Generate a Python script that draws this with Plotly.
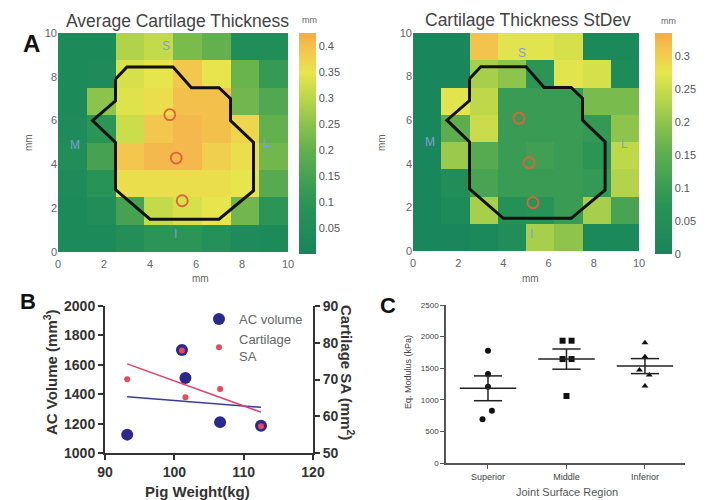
import numpy as np
import plotly.graph_objects as go

W, H = 711, 500

# ---------------- data ----------------
cell_centers = [0.625, 1.875, 3.125, 4.375, 5.625, 6.875, 8.125, 9.375]
# rows listed top (y=10) to bottom (y=0)
avg_thickness = [
    [0.03, 0.03, 0.29, 0.31, 0.23, 0.20, 0.05, 0.05],
    [0.03, 0.04, 0.33, 0.35, 0.39, 0.35, 0.21, 0.12],
    [0.03, 0.25, 0.34, 0.36, 0.40, 0.40, 0.22, 0.17],
    [0.04, 0.10, 0.32, 0.39, 0.41, 0.40, 0.37, 0.20],
    [0.05, 0.15, 0.39, 0.41, 0.41, 0.38, 0.36, 0.22],
    [0.04, 0.09, 0.36, 0.36, 0.36, 0.36, 0.35, 0.18],
    [0.03, 0.05, 0.15, 0.31, 0.33, 0.35, 0.22, 0.10],
    [0.03, 0.03, 0.06, 0.10, 0.10, 0.07, 0.04, 0.03],
]
std_thickness = [
    [0.01, 0.01, 0.31, 0.27, 0.27, 0.26, 0.02, 0.02],
    [0.01, 0.01, 0.22, 0.20, 0.08, 0.27, 0.26, 0.03],
    [0.01, 0.27, 0.24, 0.10, 0.10, 0.10, 0.18, 0.18],
    [0.01, 0.15, 0.25, 0.10, 0.10, 0.10, 0.09, 0.20],
    [0.01, 0.21, 0.14, 0.10, 0.11, 0.10, 0.08, 0.24],
    [0.01, 0.04, 0.12, 0.10, 0.10, 0.10, 0.09, 0.23],
    [0.01, 0.03, 0.22, 0.06, 0.07, 0.10, 0.22, 0.12],
    [0.01, 0.01, 0.02, 0.04, 0.22, 0.20, 0.02, 0.02],
]
avg_cbar_ticks = [0.05, 0.1, 0.15, 0.2, 0.25, 0.3, 0.35, 0.4]
std_cbar_ticks = [0, 0.05, 0.1, 0.15, 0.2, 0.25, 0.3]

outline_x = [2.5, 3.0, 5.0, 5.8, 7.0, 7.5, 7.5, 8.5, 8.5, 7.0, 4.0, 2.5, 2.5, 1.5, 2.5, 2.5]
outline_y = [7.9, 8.45, 8.45, 7.5, 7.5, 7.0, 6.0, 5.0, 2.8, 1.5, 1.5, 2.85, 5.0, 6.0, 6.9, 7.9]

site_x_avg = [4.86, 5.14, 5.40]
site_y_avg = [6.27, 4.29, 2.34]
site_x_std = [4.69, 5.13, 5.31]
site_y_std = [6.09, 4.05, 2.22]

region_labels = ["S", "M", "L", "I"]
label_x_avg = [4.71, 0.72, 9.06, 5.10]
label_y_avg = [9.39, 4.90, 4.98, 0.80]
label_x_std = [4.82, 0.74, 9.37, 5.24]
label_y_std = [9.08, 5.00, 4.90, 0.80]

pig_weight = [93.2, 101.1, 101.6, 106.6, 112.5]
ac_volume = [1125, 1700, 1510, 1210, 1185]
cartilage_sa = [70.1, 77.9, 65.2, 67.4, 57.3]

regions = ["Superior", "Middle", "Inferior"]
superior = [1776, 1408, 1207, 828, 691]
superior_dx = [0, 0, 0, 0.05, -0.07]
middle = [1935, 1935, 1645, 1645, 1060]
middle_dx = [-0.05, 0.065, -0.05, 0.065, 0]
inferior = [1903, 1682, 1471, 1392, 1218]
inferior_dx = [0, 0, -0.07, 0.055, 0]

# ---------------- helpers ----------------
def px(x):
    return x / W

def py(y):
    return 1 - y / H

colorscale = [
    [0.0, "#17855c"], [0.23, "#2a9456"], [0.47, "#62b04e"], [0.59, "#8cc34c"],
    [0.70, "#b8d64a"], [0.82, "#e6e64c"], [0.9, "#f2cc4e"], [1.0, "#f6ac4a"],
]

fig = go.Figure()

def add_heatmap(z, zmax, ticks, xa, ya, cb_x):
    fig.add_trace(go.Heatmap(
        z=z[::-1], x=cell_centers, y=cell_centers, zmin=0, zmax=zmax,
        colorscale=colorscale, xaxis=xa, yaxis=ya,
        colorbar=dict(x=px(cb_x), xanchor="left", y=py(33), yanchor="top",
                      len=221 / H, lenmode="fraction", thickness=17, outlinewidth=0,
                      tickvals=ticks, ticktext=[f"{t:g}" for t in ticks],
                      tickfont=dict(size=11, color="#555", family="Arial"),
                      ticks="", xpad=0, ypad=0),
    ))

add_heatmap(avg_thickness, 0.426, avg_cbar_ticks, "x", "y", 299)
add_heatmap(std_thickness, 0.335, std_cbar_ticks, "x2", "y2", 655)

for xa, ya, sx, sy in [("x", "y", site_x_avg, site_y_avg), ("x2", "y2", site_x_std, site_y_std)]:
    fig.add_trace(go.Scatter(x=outline_x, y=outline_y, mode="lines", xaxis=xa, yaxis=ya,
                             line=dict(color="#111", width=3), showlegend=False, hoverinfo="skip"))
    fig.add_trace(go.Scatter(x=sx, y=sy, mode="markers", xaxis=xa, yaxis=ya, showlegend=False,
                             marker=dict(symbol="circle-open", size=11, color="#e0603a",
                                         line=dict(width=1.8, color="#e0603a"))))

# Panel B
fig.add_trace(go.Scatter(x=pig_weight, y=ac_volume, mode="markers", name="AC volume",
                         xaxis="x3", yaxis="y3",
                         marker=dict(size=12, color="#2b2a8c")))
fig.add_trace(go.Scatter(x=pig_weight, y=cartilage_sa, mode="markers", name="Cartilage<br>SA",
                         xaxis="x3", yaxis="y4",
                         marker=dict(size=6, color="#e8485a")))
xfit = np.array([min(pig_weight), max(pig_weight)])
b1 = np.polyfit(pig_weight, ac_volume, 1)
b2 = np.polyfit(pig_weight, cartilage_sa, 1)
fig.add_trace(go.Scatter(x=xfit, y=np.polyval(b1, xfit), mode="lines", xaxis="x3", yaxis="y3",
                         line=dict(color="#3a3a9a", width=1.5), showlegend=False))
fig.add_trace(go.Scatter(x=xfit, y=np.polyval(b2, xfit), mode="lines", xaxis="x3", yaxis="y4",
                         line=dict(color="#e0406a", width=1.5), showlegend=False))

# Panel C
groups = [(superior, superior_dx, "circle"), (middle, middle_dx, "square"), (inferior, inferior_dx, "triangle-up")]
for i, (vals, dx, sym) in enumerate(groups):
    c = i + 1
    fig.add_trace(go.Scatter(x=[c + d for d in dx], y=vals, mode="markers", xaxis="x5", yaxis="y5",
                             showlegend=False, marker=dict(symbol=sym, size=6, color="#111")))
    m = float(np.mean(vals))
    s = float(np.std(vals, ddof=1) / np.sqrt(len(vals)))
    lx = [c - 0.36, c + 0.36, None, c, c, None, c - 0.18, c + 0.18, None, c - 0.18, c + 0.18]
    ly = [m, m, None, m - s, m + s, None, m - s, m - s, None, m + s, m + s]
    fig.add_trace(go.Scatter(x=lx, y=ly, mode="lines", xaxis="x5", yaxis="y5", showlegend=False,
                             line=dict(color="#222", width=1.5)))

# ---------------- layout ----------------
hm_axis = dict(range=[0, 10], tickvals=[0, 2, 4, 6, 8, 10], showgrid=False, zeroline=False,
               ticks="", tickfont=dict(size=11, color="#666", family="Arial"), showline=False,
               automargin=False)
bold_font = dict(size=14, color="#333", family="Arial", weight="bold")
b_axis = dict(showgrid=False, zeroline=False, showline=True, linecolor="#333", linewidth=2,
              ticks="outside", ticklen=5, tickwidth=2, tickcolor="#333", tickfont=bold_font,
              automargin=False)
c_axis = dict(showgrid=False, zeroline=False, showline=True, linecolor="#555", linewidth=1.5,
              ticks="outside", ticklen=4, tickwidth=1.2, tickcolor="#555",
              tickfont=dict(size=8, color="#444", family="Arial"), automargin=False)

fig.update_layout(
    width=W, height=H, margin=dict(l=0, r=0, t=0, b=0, autoexpand=False),
    paper_bgcolor="white", plot_bgcolor="white",
    font=dict(family="Arial"),
    xaxis=dict(domain=[px(58), px(288)], anchor="y", ticklabelstandoff=4, **hm_axis),
    yaxis=dict(domain=[py(252), py(33)], anchor="x", **hm_axis),
    xaxis2=dict(domain=[px(413), px(639)], anchor="y2", ticklabelstandoff=4, **hm_axis),
    yaxis2=dict(domain=[py(251), py(33)], anchor="x2", **hm_axis),
    xaxis3=dict(domain=[px(105), px(313)], anchor="y3", range=[90, 120],
                tickvals=[90, 100, 110, 120], **b_axis),
    yaxis3=dict(domain=[py(453), py(306)], anchor="x3", range=[1000, 2000], dtick=200, **b_axis),
    yaxis4=dict(overlaying="y3", side="right", anchor="x3", range=[50, 90], dtick=10, **b_axis),
    xaxis5=dict(domain=[px(446), px(685)], anchor="y5", range=[0.465, 3.51],
                tickvals=[1, 2, 3], ticktext=regions,
                **{**c_axis, "tickfont": dict(size=9, color="#444", family="Arial")}),
    yaxis5=dict(domain=[py(463), py(305)], anchor="x5", range=[0, 2500], dtick=500, **c_axis),
    legend=dict(x=px(199), y=py(304), xanchor="left", yanchor="top", bgcolor="rgba(0,0,0,0)",
                font=dict(size=13, color="#666", family="Arial"), tracegroupgap=2,
                itemwidth=30),
)

ann = []
def a(text, x, y, size, color="#444", angle=0, bold=False, ref="paper", xr=None, yr=None):
    d = dict(text=text, showarrow=False, textangle=angle,
             font=dict(size=size, color=color, family="Arial", weight="bold" if bold else "normal"),
             xanchor="center", yanchor="middle")
    if ref == "paper":
        d.update(x=px(x), y=py(y), xref="paper", yref="paper")
    else:
        d.update(x=x, y=y, xref=xr, yref=yr)
    ann.append(d)

a("Average Cartilage Thickness", 177, 21, 17.5, "#444")
a("Cartilage Thickness StDev", 528, 20, 17.5, "#444")
a("mm", 309, 20, 9, "#666")
a("mm", 668, 21, 9, "#666")
a("mm", 200, 278, 10, "#666")
a("mm", 530, 278, 10, "#666")
a("mm", 28, 143, 10, "#666", angle=-90)
a("mm", 381, 143, 10, "#666", angle=-90)
a("A", 31, 44, 24, "#111", bold=True)
a("B", 28, 301, 22, "#111", bold=True)
a("C", 388, 305, 22, "#111", bold=True)
for t, lx, ly in zip(region_labels, label_x_avg, label_y_avg):
    a(t, lx, ly, 12, "#7f9fd0", ref="data", xr="x", yr="y")
for t, lx, ly in zip(region_labels, label_x_std, label_y_std):
    a(t, lx, ly, 12, "#7f9fd0", ref="data", xr="x2", yr="y2")
a("AC Volume (mm<sup>3</sup>)", 50, 372, 15, "#333", angle=-90, bold=True)
a("Cartilage SA (mm<sup>2</sup>)", 348, 372, 15, "#333", angle=90, bold=True)
a("Pig Weight(kg)", 197, 491, 15, "#333", bold=True)
a("Eq. Modulus (kPa)", 408, 372, 9, "#444", angle=-90)
a("Joint Surface Region", 567, 492, 11, "#555")
fig.update_layout(annotations=ann)

fig.write_html("out.html", config={"displayModeBar": False},
               post_script="document.body.style.margin='0';document.body.style.padding='0';")
